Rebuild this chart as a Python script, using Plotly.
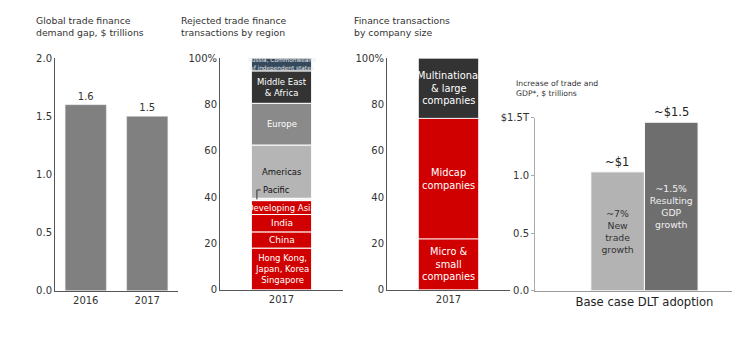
import plotly.graph_objects as go
import numpy as np

# ---------------- data ----------------
gap_years = ['2016', '2017']
gap_values = [1.6, 1.5]

region_year = ['2017']
region_labels = ['Hong Kong,<br>Japan, Korea<br>Singapore', 'China', 'India', 'Developing Asia',
                 'Pacific', 'Americas', 'Europe', 'Middle East<br>& Africa',
                 'Russia, Commonwealth<br>of independent states']
region_values = [18, 7, 7.5, 6, 1, 23, 18, 14, 5.5]

size_year = ['2017']
size_labels = ['Micro &<br>small<br>companies', 'Midcap<br>companies', 'Multinational<br>& large<br>companies']
size_values = [22, 52, 26]

dlt_category = ['Base case DLT adoption']
dlt_labels = ['~7%<br>New<br>trade<br>growth', '~1.5%<br>Resulting<br>GDP<br>growth']
dlt_values = [1.03, 1.46]
dlt_value_text = ['~$1', '~$1.5']

pct_ticks = [0, 20, 40, 60, 80, 100]
pct_ticktext = ['0', '20', '40', '60', '80', '100%']
dlt_ticks = [0, 0.5, 1.0, 1.5]
dlt_ticktext = ['0.0', '0.5', '1.0', '$1.5T']

# ---------------- styles / layout helpers ----------------
OFF = 8                              # page body margin of the exported html
W, H = 740 - 2 * OFF, 357 - 2 * OFF  # figure size that fits the window
TOP_SHOW, KY = 14.0, 0.962           # observed vertical placement of the figure in the shot
FONT = 'DejaVu Sans'
RED = '#d10000'
region_colors = [RED, RED, RED, RED, '#f4f4f4', '#b5b5b5', '#8a8a8a', '#333333', '#34495c']
region_textcolors = ['white', 'white', 'white', 'white', 'black', '#111111', 'white', 'white', '#e8e8e8']
region_textsizes = [8.5, 9, 9, 8.5, 8, 8.5, 8.5, 8.5, 5.8]
size_colors = [RED, RED, '#333333']
dlt_colors = ['#b3b3b3', '#6e6e6e']
dlt_textcolors = ['#333333', '#eeeeee']


def px_x(a):
    return (a - OFF) / W


def px_y(b):
    return 1 - ((b - TOP_SHOW) / KY) / H


def xd(a, b):
    return [px_x(a), min(1.0, px_x(b))]


def yd(top, bottom):
    return [max(0.0, px_y(bottom)), min(1.0, px_y(top))]


fig = go.Figure()

# Panel 1
fig.add_trace(go.Bar(x=gap_years, y=gap_values, width=0.67, marker_color='#808080',
                     text=[f'{v:.1f}' for v in gap_values], textposition='outside',
                     textfont=dict(size=10, color='#333333', family=FONT), cliponaxis=False,
                     xaxis='x', yaxis='y', showlegend=False, hoverinfo='skip'))

anns = []

# Panel 2 (stacked via cumulative bases)
bases = np.concatenate([[0], np.cumsum(region_values)[:-1]])
for lab, v, b, c, tc, ts in zip(region_labels, region_values, bases, region_colors,
                                region_textcolors, region_textsizes):
    fig.add_trace(go.Bar(x=region_year, y=[v], base=[float(b)], width=0.49,
                         marker=dict(color=c, line=dict(color='white', width=1)),
                         xaxis='x2', yaxis='y2', showlegend=False, hoverinfo='skip'))
    if lab != 'Pacific':
        anns.append(dict(text=lab, x=0, y=float(b + v / 2), xref='x2', yref='y2',
                         showarrow=False, font=dict(size=ts, color=tc, family=FONT)))

# Panel 3
bases3 = np.concatenate([[0], np.cumsum(size_values)[:-1]])
for lab, v, b, c in zip(size_labels, size_values, bases3, size_colors):
    fig.add_trace(go.Bar(x=size_year, y=[v], base=[float(b)], width=0.49,
                         marker=dict(color=c, line=dict(color='white', width=0.8)),
                         xaxis='x3', yaxis='y3', showlegend=False, hoverinfo='skip'))
    anns.append(dict(text=lab, x=0, y=float(b + v / 2), xref='x3', yref='y3',
                     showarrow=False, font=dict(size=9.8, color='white', family=FONT)))

# Panel 4
bw = 0.245
for i, (lab, v, c, tc) in enumerate(zip(dlt_labels, dlt_values, dlt_colors, dlt_textcolors)):
    fig.add_trace(go.Bar(x=dlt_category, y=[v], width=bw, offset=-bw + i * bw,
                         marker=dict(color=c, line=dict(color='white', width=1)),
                         text=[lab], textposition='inside', insidetextanchor='middle', textangle=0,
                         textfont=dict(size=9.3, color=tc, family=FONT),
                         xaxis='x4', yaxis='y4', showlegend=False, hoverinfo='skip'))

axis_common = dict(showgrid=False, zeroline=False, fixedrange=True,
                   tickfont=dict(size=10, color='#333333', family=FONT))
dark_line = dict(showline=True, linecolor='#555555', linewidth=1)

fig.update_layout(
    width=W, height=H, autosize=False,
    margin=dict(l=0, r=0, t=0, b=0, pad=0),
    paper_bgcolor='white', plot_bgcolor='white',
    barmode='overlay',
    font=dict(family=FONT, color='#333333'),
    xaxis=dict(type='category', domain=xd(55, 178), anchor='y', ticks='', **axis_common, **dark_line),
    yaxis=dict(domain=yd(58, 290), anchor='x', range=[0, 2], dtick=0.5, tickformat='.1f',
               ticks='', **axis_common, **dark_line),
    xaxis2=dict(type='category', domain=xd(220, 343), anchor='y2', range=[-0.5, 0.5], ticks='',
                **axis_common, **dark_line),
    yaxis2=dict(domain=yd(58, 289), anchor='x2', range=[0, 100], tickvals=pct_ticks,
                ticktext=pct_ticktext, ticks='', **axis_common, **dark_line),
    xaxis3=dict(type='category', domain=xd(387, 510), anchor='y3', range=[-0.5, 0.5], ticks='',
                **axis_common, **dark_line),
    yaxis3=dict(domain=yd(58, 289), anchor='x3', range=[0, 100], tickvals=pct_ticks,
                ticktext=pct_ticktext, ticks='', **axis_common, **dark_line),
    xaxis4=dict(type='category', domain=xd(535, 740), anchor='y4', range=[-0.5, 0.40], ticks='',
                showgrid=False, zeroline=False, fixedrange=True,
                tickfont=dict(size=11.6, color='#222222', family=FONT),
                showline=True, linecolor='#999999', linewidth=1),
    yaxis4=dict(domain=yd(117.3, 290), anchor='x4', range=[0, 1.5], tickvals=dlt_ticks,
                ticktext=dlt_ticktext, ticks='outside', ticklen=3, tickcolor='#aaaaaa',
                showline=True, linecolor='#aaaaaa', linewidth=1,
                showgrid=False, zeroline=False, fixedrange=True,
                tickfont=dict(size=10, color='#333333', family=FONT)),
)

titles = [
    ('Global trade finance<br>demand gap, $ trillions', 35),
    ('Rejected trade finance<br>transactions by region', 180),
    ('Finance transactions<br>by company size', 353),
]
for t, x in titles:
    anns.append(dict(text=t, x=px_x(x), y=1.0, xref='paper', yref='paper',
                     xanchor='left', yanchor='top', align='left', showarrow=False, borderpad=0,
                     font=dict(size=9.3, color='#333333', family=FONT)))
anns.append(dict(text='Increase of trade and<br>GDP*, $ trillions', x=px_x(514), y=px_y(77),
                 xref='paper', yref='paper', xanchor='left', yanchor='top', align='left',
                 showarrow=False, font=dict(size=7.7, color='#333333', family=FONT)))
# DLT value labels
for i, (v, t) in enumerate(zip(dlt_values, dlt_value_text)):
    anns.append(dict(text=t, x=0, y=v, xref='x4', yref='y4', yanchor='bottom',
                     xshift=(-0.5 + i) * 54, yshift=1, showarrow=False,
                     font=dict(size=11.5, color='#222222', family=FONT)))
# Pacific leader label
pac_idx = region_labels.index('Pacific')
pac_top = sum(region_values[:pac_idx + 1])
pac_mid = pac_top - region_values[pac_idx] / 2
anns.append(dict(text='Pacific', x=0.33, y=pac_top + 3.6, xref='x2 domain', yref='y2',
                 xanchor='left', yanchor='middle', showarrow=False,
                 font=dict(size=8.3, color='#111111', family=FONT)))
fig.update_layout(annotations=anns)

fig.add_shape(type='line', xref='x2 domain', yref='y2', x0=0.30, x1=0.30, y0=pac_mid, y1=pac_top + 3.6,
              line=dict(color='#333333', width=1))
fig.add_shape(type='line', xref='x2 domain', yref='y2', x0=0.30, x1=0.33, y0=pac_top + 3.6, y1=pac_top + 3.6,
              line=dict(color='#333333', width=1))

fig.write_html('out.html')
